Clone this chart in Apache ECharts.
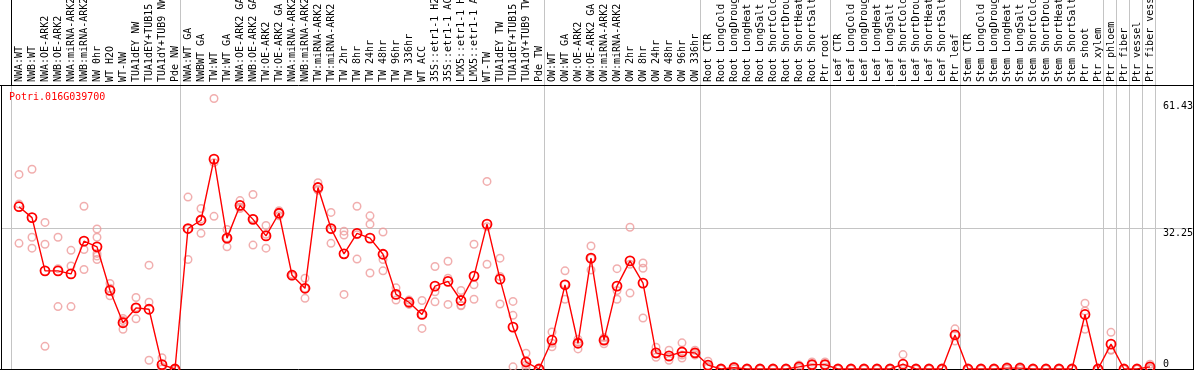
<!DOCTYPE html>
<html><head><meta charset="utf-8">
<script src="https://cdn.jsdelivr.net/npm/echarts@6/dist/echarts.min.js"></script>
<style>html,body{margin:0;padding:0;background:#fff}#c{width:1194px;height:370px}</style>
</head><body><div id="c"></div>
<script>
const geneTitle = 'Potri.016G039700';
const categories = [
 'NWA:WT','NWB:WT','NWA:OE-ARK2','NWB:OE-ARK2','NWA:miRNA-ARK2','NWB:miRNA-ARK2','NW 0hr','WT H2O','WT-NW','TUA1dEY NW','TUA1dEY+TUB15','TUA1dY+TUB9 NW','Pde NW',
 'NWA:WT GA','NWBWT GA','TW:WT','TW:WT GA','NWA:OE-ARK2 GA','NWB:OE-ARK2 GA','TW:OE-ARK2','TW:OE-ARK2 GA','NWA:miRNA-ARK2','NWB:miRNA-ARK2','TW:miRNA-ARK2','TW:miRNA-ARK2','TW 2hr','TW 8hr','TW 24hr','TW 48hr','TW 96hr','TW 336hr','WT ACC','35S::etr1-1 H2O','35S::etr1-1 ACC','LMX5::etr1-1 H2O','LMX5::etr1-1 ACC','WT-TW','TUA1dEY TW','TUA1dEY+TUB15','TUA1dY+TUB9 TW','Pde TW',
 'OW:WT','OW:WT GA','OW:OE-ARK2','OW:OE-ARK2 GA','OW:miRNA-ARK2','OW:miRNA-ARK2','OW 2hr','OW 8hr','OW 24hr','OW 48hr','OW 96hr','OW 336hr',
 'Root CTR','Root LongCold','Root LongDrought','Root LongHeat','Root LongSalt','Root ShortCold','Root ShortDrought','Root ShortHeat','Root ShortSalt','Ptr root',
 'Leaf CTR','Leaf LongCold','Leaf LongDrought','Leaf LongHeat','Leaf LongSalt','Leaf ShortCold','Leaf ShortDrought','Leaf ShortHeat','Leaf ShortSalt','Ptr leaf',
 'Stem CTR','Stem LongCold','Stem LongDrought','Stem LongHeat','Stem LongSalt','Stem ShortCold','Stem ShortDrought','Stem ShortHeat','Stem ShortSalt','Ptr shoot','Ptr xylem',
 'Ptr phloem','Ptr fiber','Ptr vessel','Ptr fiber vessel'
];
const meanValues = [
 37.2,34.7,22.5,22.5,21.8,29.3,28.0,18.0,10.6,14.0,13.7,1.0,0,
 32.2,34.1,48.1,30.0,37.5,34.3,30.5,35.7,21.5,18.5,41.6,32.2,26.4,31.1,30.0,26.3,17.1,15.3,12.5,19.0,20.1,15.7,21.3,33.2,20.6,9.6,1.6,0,
 6.6,19.3,5.9,25.4,6.6,19.0,24.8,19.7,3.7,3.0,3.9,3.7,
 0.9,0,0.3,0,0,0,0,0.5,1.0,1.0,
 0,0,0,0,0,1.1,0,0,0,7.8,
 0,0,0,0.2,0.2,0,0,0,0,12.5,0,
 5.7,0,0,0.5
];
const replicateValues = [
 [44.6,37.8,28.8],[45.8,30.2,27.7],[33.6,28.6,5.2],[30.2,23.0,14.3],[27.2,23.6,14.3],[37.3,27.4,22.8],[32.1,30.2,26.5,25.9,25.1],[19.6,18.5,16.8],[11.6,11.1,9.1],[16.4,14.1,11.5],[23.8,15.3,2.0],[2.6,0.5,0],[0,0,0],
 [39.4,32.1,25.1],[36.8,34.4,31.1],[62.0,47.3,35.0],[32.0,30.0,28.0],[38.6,37.1,36.8],[40.0,34.5,28.4],[32.9,30.9,27.7],[36.3,35.7,35.1],[21.7,21.5,21.3],[20.8,18.5,16.2],[42.7,41.1,41.0],[35.9,31.9,28.8],[31.6,30.7,17.1],[37.3,30.8,25.2],[35.1,33.2,22.0],[31.4,25.1,22.5],[18.6,17.0,15.8],[15.8,15.3,14.8],[15.7,12.5,9.3],[23.5,17.7,15.4],[24.7,20.8,14.8],[18.0,14.6,14.5],[28.6,19.3,16.0],[43.0,32.6,24.0],[25.4,21.2,14.9],[15.5,12.3,0.5],[3.6,0.9,0.3],[0,0,0],
 [8.5,5.9,5.1],[22.5,19.4,16.0],[6.8,6.2,4.6],[28.2,25.4,22.7],[7.2,6.6,5.8],[23.0,18.0,16.0],[32.5,24.0,17.4],[24.3,23.1,11.7],[5.0,3.4,2.7],[4.3,2.7,2.0],[6.0,3.2,2.5],[4.3,3.6,3.2],
 [1.8,0.6,0.3],[0,0,0],[0.6,0.2,0],[0,0,0],[0,0,0],[0,0,0],[0,0,0],[0.9,0.4,0.2],[1.6,1.0,0.4],[1.6,1.0,0.4],
 [0,0,0],[0,0,0],[0,0,0],[0,0,0],[0,0,0],[3.3,0,0],[0,0,0],[0,0,0],[0,0,0],[9.2,7.8,6.4],
 [0,0,0],[0,0,0],[0,0,0],[0.5,0,0],[0.5,0,0],[0,0,0],[0,0,0],[0,0,0],[0,0,0],[15.1,13.3,9.1],[0,0,0],
 [8.4,4.4,4.3],[0,0,0],[0,0,0],[1.1,0.3,0]
];
const yTickLabelsTop = [32.25, 61.43];
const yTickLabelsBottom = [0];
const gridLineValue = 32.25;
const groupBoundaries = [0,13,41,53,63,73,84,85,86,87,88];

const FONT = '"DejaVu Sans Mono", monospace';
const yMax = 64.87;
const chart = echarts.init(document.getElementById('c'), null, {renderer:'canvas'});
const scatterData = [];
replicateValues.forEach((arr,i)=>arr.forEach(v=>scatterData.push([i,v])));

const yAxisCommon = {type:'value',position:'right',min:0,max:yMax,axisLine:{show:false},axisTick:{show:false},splitLine:{show:false}};
chart.setOption({
  animation:false,
  title:{text:geneTitle,left:4,top:87,textStyle:{color:'#ff0000',fontFamily:FONT,fontSize:10,fontWeight:'normal'}},
  grid:{left:12.5,right:37.5,top:86,bottom:1,containLabel:false,outerBoundsMode:'none'},
  xAxis:{type:'category',position:'top',data:categories,boundaryGap:true,
    axisLine:{show:false},axisTick:{show:false},splitLine:{show:false},
    axisLabel:{rotate:90,interval:0,margin:4,fontFamily:FONT,fontSize:10,color:'#000'}},
  yAxis:[
    Object.assign({}, yAxisCommon, {axisLabel:{customValues:yTickLabelsTop,verticalAlign:'top',align:'left',margin:6.5,fontFamily:FONT,fontSize:10,color:'#000',formatter:v=>String(v)}}),
    Object.assign({}, yAxisCommon, {axisLabel:{customValues:yTickLabelsBottom,verticalAlign:'bottom',align:'left',margin:6.5,fontFamily:FONT,fontSize:10,color:'#000',formatter:v=>String(v)}})
  ],
  series:[
    {type:'scatter',data:scatterData,symbol:'circle',symbolSize:7.5,silent:true,
     itemStyle:{color:'rgba(0,0,0,0)',borderColor:'#ee9a9a',borderWidth:1.5},z:2},
    {type:'line',data:meanValues,symbol:'circle',symbolSize:9,showAllSymbol:true,silent:true,
     lineStyle:{color:'#ff0000',width:1.4},itemStyle:{color:'rgba(0,0,0,0)',borderColor:'#ff0000',borderWidth:1.8},z:3}
  ]
});

const c0 = chart.convertToPixel({xAxisIndex:0}, 0);
const c1 = chart.convertToPixel({xAxisIndex:0}, 1);
const bw = c1 - c0;
const bx = k => Math.round(c0 - bw/2 + bw*k - 1.5) + 0.5;
const yZero = chart.convertToPixel({yAxisIndex:0}, 0);
const yGrid = Math.round(chart.convertToPixel({yAxisIndex:0}, gridLineValue)) + 0.5;
const W = 1194, H = 370;
const line = (x1,y1,x2,y2,color) => ({type:'line',silent:true,z:-1,shape:{x1,y1,x2,y2},style:{stroke:color,lineWidth:1}});
const els = [];
groupBoundaries.forEach((k,j)=>{
  const x = bx(k);
  if (j === 0) {
    els.push(line(x,0,x,85,'#000'));
    els.push(line(x,86,x,yZero,'#c4c4c4'));
  } else {
    els.push(line(x,0,x,yZero,'#c4c4c4'));
  }
});
els.push(line(1,yGrid,W-1,yGrid,'#c4c4c4'));
els.push(line(0,85.5,W,85.5,'#000'));
els.push(line(0,369.5,W,369.5,'#000'));
els.push(line(1.5,85,1.5,H,'#000'));
els.push(line(W-0.5,0,W-0.5,H,'#000'));
chart.setOption({graphic:{elements:els}});
</script>
</body></html>
